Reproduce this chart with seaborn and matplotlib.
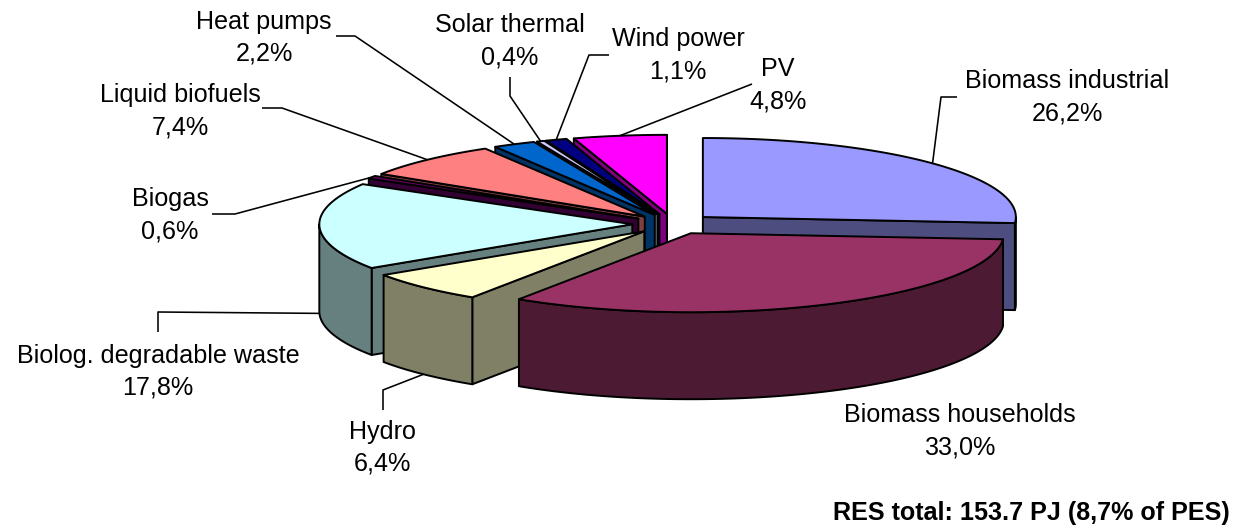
import numpy as np
import matplotlib
matplotlib.use("Agg")
import matplotlib.pyplot as plt
import seaborn as sns

categories = ["Biomass industrial", "Biomass households", "Hydro", "Biolog. degradable waste",
              "Biogas", "Liquid biofuels", "Heat pumps", "Solar thermal", "Wind power", "PV"]
shares = [26.2, 33.0, 6.4, 17.8, 0.6, 7.4, 2.2, 0.4, 1.1, 4.8]
colors = ["#9999FF", "#993366", "#FFFFCC", "#CCFFFF", "#660066",
          "#FF8080", "#0066CC", "#CCCCFF", "#000080", "#FF00FF"]
footer = "RES total: 153.7 PJ (8,7% of PES)"

# label centres (px): name line, value line is 32 px below
label_pos = [(1067, 81), (960, 415), (382, 432), (158, 356), (170, 199),
             (180, 95), (264, 22), (510, 25), (678, 39), (778, 69)]
# leader waypoints from the label side (px); None = no leader
leaders = [[(957, 97), (941, 97)], None, [(383, 410), (383, 390)], [(158, 332), (158, 312)],
           [(212, 214), (235, 214)], [(262, 108), (282, 108)], [(336, 36), (355, 36)],
           [(510, 77), (510, 96)], [(609, 55), (589, 55)], [(752, 84)]]

sns.set_theme(style="white")
plt.rcParams["font.family"] = ["Liberation Sans", "DejaVu Sans"]
palette = sns.color_palette(colors)

CX, CY, A, B, DEPTH, EXPLODE = 673.0, 224.0, 313.0, 79.0, 87.0, 0.13
LW = 1.4
LEADER_LW = 1.15
FS = 18.1

fig = plt.figure(figsize=(12.34, 5.25), dpi=100)
ax = fig.add_axes([0, 0, 1, 1])
ax.set_xlim(0, 1234)
ax.set_ylim(525, 0)
ax.axis("off")

shares_arr = np.array(shares)
edges = np.concatenate([[0], np.cumsum(shares_arr)]) / shares_arr.sum() * 2 * np.pi


def pt(c, th):
    return c[0] + A * np.sin(th), c[1] - B * np.cos(th)


slices = []
for i, (t1, t2) in enumerate(zip(edges[:-1], edges[1:])):
    mid = (t1 + t2) / 2
    c = (CX + EXPLODE * A * np.sin(mid), CY - EXPLODE * B * np.cos(mid))
    slices.append((i, t1, t2, mid, c))

for i, t1, t2, mid, c in sorted(slices, key=lambda s: s[4][1]):
    col = palette[i]
    dark = tuple(v * 0.5 for v in col)
    kw = dict(facecolor=dark, edgecolor="black", linewidth=LW, joinstyle="round")
    # radial cut faces facing the viewer
    for th, vis in ((t1, -np.sin(t1) > 0), (t2, np.sin(t2) > 0)):
        if vis:
            p = pt(c, th)
            ax.fill([c[0], p[0], p[0], c[0]], [c[1], p[1], p[1] + DEPTH, c[1] + DEPTH], **kw)
    # outer wall
    lo, hi = max(t1, np.pi / 2), min(t2, 3 * np.pi / 2)
    if hi > lo:
        th = np.linspace(lo, hi, 120)
        x, y = pt(c, th)
        ax.fill(np.r_[x, x[::-1]], np.r_[y, y[::-1] + DEPTH], **kw)
    # top surface
    th = np.linspace(t1, t2, max(int((t2 - t1) * 80), 4))
    x, y = pt(c, th)
    ax.fill(np.r_[c[0], x], np.r_[c[1], y], facecolor=col, edgecolor="black",
            linewidth=LW, joinstyle="round")

for i, t1, t2, mid, c in slices:
    lx, ly = label_pos[i]
    val = f"{shares[i]:.1f}%".replace(".", ",")
    ax.text(lx, ly, categories[i], ha="center", va="center", fontsize=FS, color="black")
    ax.text(lx, ly + 32, val, ha="center", va="center", fontsize=FS, color="black")
    if leaders[i]:
        ex, ey = pt(c, mid)
        if -np.cos(mid) > 0 and i != 4:
            ey += DEPTH
        ax.plot([p[0] for p in leaders[i]] + [ex], [p[1] for p in leaders[i]] + [ey],
                color="black", lw=LEADER_LW, solid_capstyle="butt")

ax.text(1230, 513, footer, ha="right", va="center", fontsize=FS, fontweight="bold", color="black")
sns.despine(ax=ax, left=True, bottom=True)
fig.savefig("out.png", dpi=100)
